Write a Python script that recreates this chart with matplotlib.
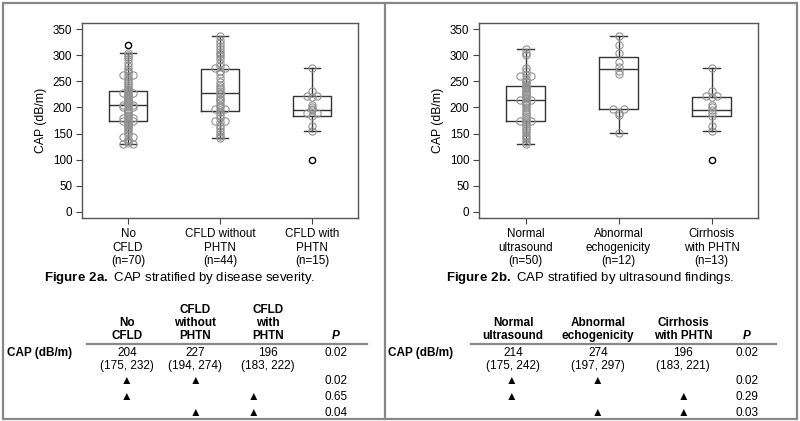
import numpy as np
import matplotlib.pyplot as plt
from matplotlib.patches import Rectangle
from matplotlib.lines import Line2D

plt.rcParams['font.family'] = ['Liberation Sans', 'DejaVu Sans']
plt.rcParams['mathtext.fontset'] = 'custom'
plt.rcParams['mathtext.rm'] = 'Liberation Sans'
plt.rcParams['mathtext.bf'] = 'Liberation Sans:bold'

W, H = 800, 421

# ---- Figure 2a: disease severity
sev_labels = ['No\nCFLD\n(n=70)', 'CFLD without\nPHTN\n(n=44)', 'CFLD with\nPHTN\n(n=15)']
sev_med = [204, 227, 196]
sev_q1 = [175, 194, 183]
sev_q3 = [232, 274, 222]
sev_lo = [130, 142, 155]
sev_hi = [304, 337, 276]
sev_out = [[320], [], [100]]
sev_pts = [
    [130, 130, 132, 136, 140, 144, 144, 148, 152, 156, 160, 163, 166, 168, 170,
     172, 175, 175, 176, 178, 180, 180, 183, 186, 189, 192, 194, 196, 198, 200,
     200, 202, 204, 204, 206, 208, 210, 212, 214, 215, 216, 218, 220, 222, 224,
     226, 228, 228, 230, 232, 234, 236, 240, 244, 246, 250, 255, 260, 262, 262,
     266, 270, 274, 280, 286, 292, 297, 300, 304],
    [142, 145, 150, 155, 160, 165, 172, 174, 174, 180, 186, 192, 195, 197, 197,
     200, 205, 210, 215, 217, 220, 225, 228, 232, 236, 240, 244, 248, 256, 264,
     270, 275, 275, 280, 286, 292, 298, 302, 306, 312, 318, 324, 330, 337],
    [155, 165, 183, 190, 190, 195, 197, 200, 205, 220, 222, 222, 232, 276],
]
sev_cols = ['No\nCFLD', 'CFLD\nwithout\nPHTN', 'CFLD\nwith\nPHTN']
sev_iqr = ['(175, 232)', '(194, 274)', '(183, 222)']
sev_p = ['0.02', '0.02', '0.65', '0.04']

# ---- Figure 2b: ultrasound findings
us_labels = ['Normal\nultrasound\n(n=50)', 'Abnormal\nechogenicity\n(n=12)', 'Cirrhosis\nwith PHTN\n(n=13)']
us_med = [214, 274, 196]
us_q1 = [175, 197, 183]
us_q3 = [242, 297, 221]
us_lo = [130, 151, 155]
us_hi = [312, 337, 276]
us_out = [[], [], [100]]
us_pts = [
    [130, 134, 140, 144, 148, 152, 156, 160, 164, 168, 172, 175, 175, 176, 180,
     184, 188, 192, 196, 200, 204, 206, 208, 210, 212, 215, 215, 218, 220, 224,
     226, 228, 230, 232, 235, 238, 240, 242, 245, 248, 250, 255, 260, 260, 262,
     270, 276, 300, 305, 312],
    [151, 185, 190, 197, 197, 265, 270, 278, 288, 305, 320, 337],
    [155, 165, 183, 190, 195, 200, 205, 220, 222, 222, 232, 276],
]
us_cols = ['Normal\nultrasound', 'Abnormal\nechogenicity', 'Cirrhosis\nwith PHTN']
us_iqr = ['(175, 242)', '(197, 297)', '(183, 221)']
us_p = ['0.02', '0.02', '0.29', '0.03']

# pairs compared in the last three table rows
pairs = [(0, 1), (0, 2), (1, 2)]


def fx(x):
    return x / W


def fy(y):
    return 1 - y / H


def draw_panel(ax, labels, med, q1, q3, lo, hi, out, pts):
    stats = []
    for i in range(3):
        stats.append(dict(med=med[i], q1=q1[i], q3=q3[i], whislo=lo[i],
                          whishi=hi[i], fliers=out[i], label=labels[i]))
    ax.bxp(stats, positions=[1, 2, 3], widths=0.41, capwidths=0.18,
           boxprops=dict(color='#333333', lw=1.0),
           medianprops=dict(color='#333333', lw=1.0),
           whiskerprops=dict(color='#333333', lw=1.0),
           capprops=dict(color='#333333', lw=1.0),
           flierprops=dict(marker='o', markersize=4.5, markerfacecolor='none',
                           markeredgecolor='black', markeredgewidth=1.0))
    # points with equal values are spread sideways
    for i, vals in enumerate(pts):
        vals = np.array(vals)
        xs = np.zeros(len(vals))
        for v in np.unique(vals):
            idx = np.where(vals == v)[0]
            xs[idx] = (np.arange(len(idx)) - (len(idx) - 1) / 2) * 0.11
        ax.plot(i + 1 + xs, vals, 'o', markersize=5.2, markerfacecolor='none',
                markeredgecolor='#929292', markeredgewidth=0.8, zorder=3)
    ax.set_xlim(0.5, 3.5)
    ax.set_ylim(-12, 362)
    ax.set_yticks(range(0, 351, 50))
    ax.set_ylabel('CAP (dB/m)', fontsize=8.8, labelpad=4)
    ax.tick_params(labelsize=8.4, length=4, color='#444444', pad=3)
    for s in ax.spines.values():
        s.set_color('#555555')
        s.set_linewidth(1.0)


def draw_table(x_cap, x_cols, x_tri, x_p, x_line, cols, med, iqr, pvals):
    fig.text(fx(x_cap), fy(353), 'CAP (dB/m)', fontsize=8.5, fontweight='bold',
             ha='left', va='center')
    for i in range(3):
        fig.text(fx(x_cols[i]), fy(342), cols[i], fontsize=8.5, fontweight='bold',
                 ha='center', va='bottom', multialignment='center', linespacing=1.1)
        fig.text(fx(x_cols[i]), fy(353), str(med[i]), fontsize=8.5, ha='center', va='center')
        fig.text(fx(x_cols[i]), fy(366), iqr[i], fontsize=8.5, ha='center', va='center')
    fig.text(fx(x_p), fy(342), 'P', fontsize=8.5, fontweight='bold', style='italic',
             ha='center', va='bottom')
    fig.text(fx(x_p), fy(353), pvals[0], fontsize=8.5, ha='center', va='center')
    for r, (a, b) in enumerate(pairs):
        y = [381, 397, 413][r]
        for c in (a, b):
            fig.text(fx(x_tri[c]), fy(y), '\u25b2', fontsize=8.5, ha='center', va='center')
        fig.text(fx(x_p), fy(y), pvals[r + 1], fontsize=8.5, ha='center', va='center')
    fig.add_artist(Line2D([fx(x_line[0]), fx(x_line[1])], [fy(344), fy(344)],
                          color='#888888', lw=1.6))


fig = plt.figure(figsize=(8, 4.21), dpi=100)

ax1 = fig.add_axes([fx(82), fy(218), fx(358) - fx(82), fy(23) - fy(218)])
draw_panel(ax1, sev_labels, sev_med, sev_q1, sev_q3, sev_lo, sev_hi, sev_out, sev_pts)
ax2 = fig.add_axes([fx(479), fy(218), fx(758) - fx(479), fy(23) - fy(218)])
draw_panel(ax2, us_labels, us_med, us_q1, us_q3, us_lo, us_hi, us_out, us_pts)

# captions
fig.text(fx(180), fy(278), r'$\bf{Figure\ 2a.}$ CAP stratified by disease severity.',
         fontsize=9.5, ha='center', va='center')
fig.text(fx(590), fy(278), r'$\bf{Figure\ 2b.}$ CAP stratified by ultrasound findings.',
         fontsize=9.5, ha='center', va='center')

draw_table(7, [127, 195, 268], [126, 195, 253], 336, (87, 367),
           sev_cols, sev_med, sev_iqr, sev_p)
draw_table(388, [513, 598, 683], [511, 597, 683], 747, (471, 776),
           us_cols, us_med, us_iqr, us_p)

# outer frame and divider
fig.add_artist(Rectangle((fx(3), fy(419)), fx(794), 1 - fy(416), fill=False,
                         edgecolor='#888888', lw=1.6))
fig.add_artist(Line2D([fx(385), fx(385)], [fy(3), fy(419)], color='#888888', lw=1.6))

fig.savefig('out.png', dpi=100)
